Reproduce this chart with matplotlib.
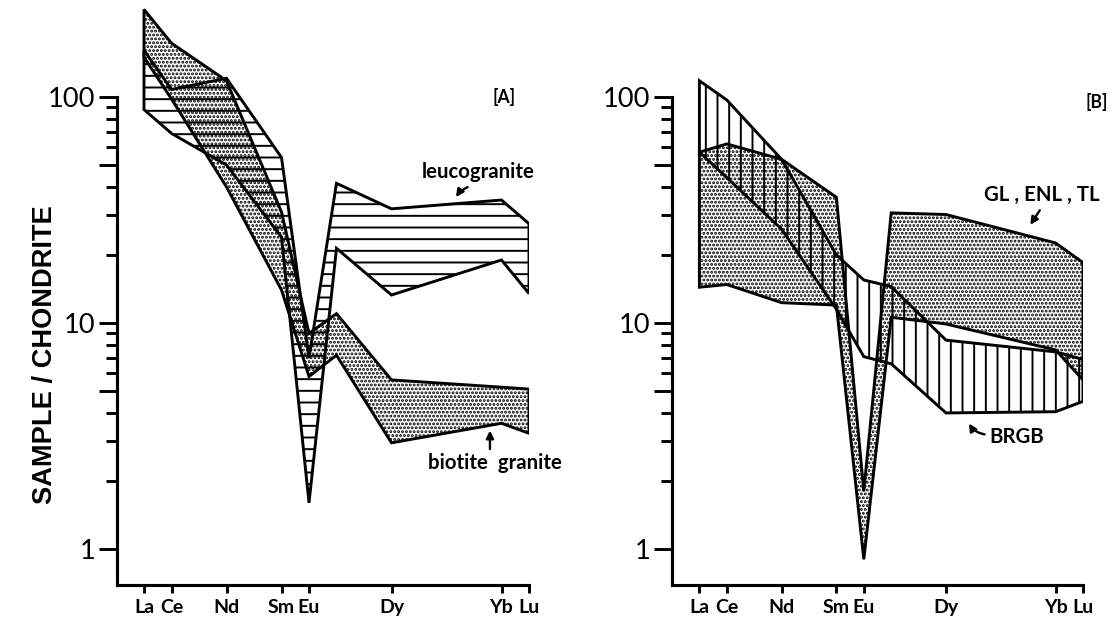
import matplotlib.pyplot as plt
from matplotlib.ticker import FixedLocator, FixedFormatter, NullFormatter, NullLocator

#===== DATA (chondrite-normalised REE envelopes) =====
elements = ['La', 'Ce', 'Nd', 'Sm', 'Eu', 'Gd', 'Dy', 'Yb', 'Lu']
atomic_no = [57, 58, 60, 62, 63, 64, 66, 70, 71]
tick_elements = ['La', 'Ce', 'Nd', 'Sm', 'Eu', 'Dy', 'Yb', 'Lu']

# [A] biotite granite (stippled) and leucogranite (horizontal lines)
biotite_hi = [244, 173, 118, 31, 9.0, 11.0, 5.6, 5.2, 5.1]
biotite_lo = [150, 98, 40, 14, 5.8, 7.2, 2.95, 3.6, 3.25]
leuco_hi = [161, 108, 121, 54, 7.0, 41.5, 32, 35, 27.5]
leuco_lo = [88, 69, 50, 24, 1.6, 21.4, 13.3, 19, 13.5]

# [B] BRGB (vertical lines) and GL, ENL, TL (stippled)
brgb_hi = [118, 97, 53, 20, 15.5, 14.5, 8.4, 7.45, 6.9]
brgb_lo = [57, 44, 26, 11.5, 7.1, 6.6, 4.0, 4.05, 4.5]
gl_hi = [57, 62, 53, 36, 1.8, 30.7, 30.2, 22.6, 18.5]
gl_lo = [14.4, 14.8, 12.3, 12, 0.9, 10.6, 9.9, 7.6, 5.6]

# y ticks: long ones (labelled decades and the 5s), short ones for the rest
major_y = [1, 5, 10, 50, 100]
major_y_labels = ['1', '', '10', '', '100']
minor_y = [2, 3, 4, 6, 7, 8, 9, 20, 30, 40, 60, 70, 80, 90]

#===== GENERAL SETTINGS =====
DPI = 140
W, H = 1113, 619
plt.rcParams['hatch.linewidth'] = 1.0
plt.rcParams['hatch.color'] = 'black'
plt.rcParams['font.family'] = ['Lato', 'DejaVu Sans']

y_bottom = 10 ** ((549 - 585) / 226.0)
y_top = 10 ** (549 / 226.0)

fig = plt.figure(figsize=(W / DPI, H / DPI), dpi=DPI)
axA = fig.add_axes([116.5 / W, 34.0 / H, (529 - 116.5) / W, 585.0 / H])
axB = fig.add_axes([672.0 / W, 34.0 / H, (1083 - 672.0) / W, 585.0 / H])


def draw_field(ax, lo, hi, hatch):
    ax.fill_between(atomic_no, lo, hi, facecolor='none', edgecolor='black',
                    hatch=hatch, linewidth=0)
    ax.fill_between(atomic_no, lo, hi, facecolor='none', edgecolor='black',
                    linewidth=1.5, joinstyle='miter')


def style_axes(ax):
    ax.set_yscale('log')
    ax.set_xlim(56, 71)
    ax.set_ylim(y_bottom, y_top)
    ax.patch.set_visible(False)
    for s in ['top', 'right']:
        ax.spines[s].set_visible(False)
    ax.spines['left'].set_bounds(y_bottom, 100)
    ax.spines['left'].set_linewidth(1.6)
    ax.spines['bottom'].set_linewidth(1.6)
    ax.yaxis.set_major_locator(FixedLocator(major_y))
    ax.yaxis.set_major_formatter(FixedFormatter(major_y_labels))
    ax.yaxis.set_minor_locator(FixedLocator(minor_y))
    ax.yaxis.set_minor_formatter(NullFormatter())
    ax.tick_params(axis='y', which='major', direction='out', length=9.5, width=1.5, pad=1.5,
                   left=True, labelsize=14)
    ax.tick_params(axis='y', which='minor', direction='out', length=5.5, width=1.5, left=True)
    ticks = [atomic_no[elements.index(e)] for e in tick_elements]
    ax.xaxis.set_major_locator(FixedLocator(ticks))
    ax.xaxis.set_major_formatter(FixedFormatter(tick_elements))
    ax.xaxis.set_minor_locator(NullLocator())
    ax.tick_params(axis='x', which='major', direction='out', length=4, width=1.5, pad=3,
                   labelsize=10)
    for lab in ax.get_xticklabels():
        lab.set_fontweight('bold')


#===== PANEL A =====
draw_field(axA, biotite_lo, biotite_hi, '......')
draw_field(axA, leuco_lo, leuco_hi, '--')
style_axes(axA)
axA.text(70.1, 100, '[A]', ha='center', va='center', fontsize=9, fontweight='bold')
axA.text(69.15, 46.5, 'leucogranite', ha='center', va='center', fontsize=10.5, fontweight='bold')
axA.annotate('', xy=(68.27, 34.9), xytext=(68.9, 40.5),
             arrowprops=dict(arrowstyle='-|>', lw=1.2, color='black', mutation_scale=8,
                             connectionstyle='arc3,rad=0.2'))
axA.text(67.33, 2.4, 'biotite  granite', ha='left', va='center', fontsize=10.5, fontweight='bold',
         clip_on=False)
axA.annotate('', xy=(69.58, 3.48), xytext=(69.58, 2.66),
             arrowprops=dict(arrowstyle='-|>', lw=1.2, color='black', mutation_scale=8))

#===== PANEL B =====
draw_field(axB, gl_lo, gl_hi, '......')
draw_field(axB, brgb_lo, brgb_hi, '||')
style_axes(axB)
axB.text(71.5, 95, '[B]', ha='center', va='center', fontsize=9, fontweight='bold', clip_on=False)
axB.text(69.5, 36.9, 'GL , ENL , TL', ha='center', va='center', fontsize=10.5, fontweight='bold',
         clip_on=False)
axB.annotate('', xy=(69.0, 26.3), xytext=(69.5, 32.6),
             arrowprops=dict(arrowstyle='-|>', lw=1.2, color='black', mutation_scale=8))
axB.text(68.6, 3.13, 'BRGB', ha='center', va='center', fontsize=10.5, fontweight='bold')
axB.annotate('', xy=(66.77, 3.72), xytext=(67.55, 3.2),
             arrowprops=dict(arrowstyle='-|>', lw=1.2, color='black', mutation_scale=8,
                             connectionstyle='arc3,rad=-0.3'))

#===== Y LABEL =====
fig.text(45.0 / W, 1 - 355.0 / H, 'SAMPLE / CHONDRITE', rotation=90, ha='center', va='center',
         fontsize=14, fontweight='bold', family=['Liberation Sans', 'DejaVu Sans'])

fig.canvas.draw()
fig.savefig('out.png', dpi=DPI)
